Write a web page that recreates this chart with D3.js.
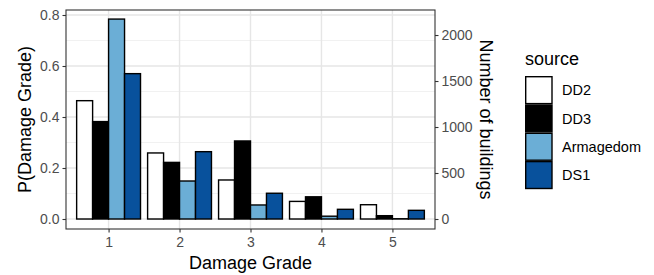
<!DOCTYPE html>
<html>
<head>
<meta charset="utf-8">
<script src="https://cdn.jsdelivr.net/npm/d3@7"></script>
<style>
  body { margin: 0; background: #fff; }
  svg { font-family: "Liberation Sans", Arial, sans-serif; display: block; }
</style>
</head>
<body>
<div id="chart-container"></div>
<script>
// Damage grades on the x axis
const grades = [1, 2, 3, 4, 5];
// Sources (legend order)
const sources = ["DD2", "DD3", "Armagedom", "DS1"];
const sourceColors = ["#ffffff", "#000000", "#6baed6", "#08519c"];

// P(Damage Grade) per source, one value per grade
const dd2 = [0.464, 0.259, 0.153, 0.069, 0.056];
const dd3 = [0.382, 0.222, 0.306, 0.087, 0.013];
const armagedom = [0.784, 0.149, 0.055, 0.011, 0.001];
const ds1 = [0.570, 0.264, 0.101, 0.038, 0.034];

// tick labels
const leftTicks = [0, 0.2, 0.4, 0.6, 0.8];
const rightTicks = [0, 500, 1000, 1500, 2000];
// number of buildings used for the secondary axis
const nBuildings = 2772;

const seriesValues = [dd2, dd3, armagedom, ds1];

// flatten into rows for plotting
let rows = [];
sources.forEach((s, i) => {
    grades.forEach((g, j) => {
        rows.push({ source: s, grade: g, p: seriesValues[i][j] });
    });
});

const W = 654, H = 275;
const panel = { left: 66, right: 435, top: 10, bottom: 229 };

const svg = d3.select("#chart-container").append("svg")
    .attr("width", W)
    .attr("height", H);

// x scale: discrete grades with 0.6 expansion like ggplot
const x0 = d3.scalePoint()
    .domain(grades)
    .range([panel.left, panel.right])
    .padding(0.6);
const step = x0.step();

const x1 = d3.scaleBand()
    .domain(sources)
    .range([-0.45 * step, 0.45 * step])
    .padding(0);

// y scale
const y = d3.scaleLinear()
    .domain([0, 0.8])
    .range([219, 15]);

// secondary y scale (counts)
const y2 = d3.scaleLinear()
    .domain([0, 0.8 * nBuildings])
    .range([219, 15]);

// minor gridlines
const minorTicks = [0.1, 0.3, 0.5, 0.7];
svg.append("g").selectAll("line")
    .data(minorTicks)
    .enter().append("line")
    .attr("x1", panel.left).attr("x2", panel.right)
    .attr("y1", d => y(d)).attr("y2", d => y(d))
    .attr("stroke", "#ebebeb")
    .attr("stroke-width", 0.7);

// major gridlines
svg.append("g").selectAll("line")
    .data(leftTicks)
    .enter().append("line")
    .attr("x1", panel.left).attr("x2", panel.right)
    .attr("y1", d => y(d)).attr("y2", d => y(d))
    .attr("stroke", "#e6e6e6")
    .attr("stroke-width", 1.4);

svg.append("g").selectAll("line")
    .data(grades)
    .enter().append("line")
    .attr("x1", d => x0(d)).attr("x2", d => x0(d))
    .attr("y1", panel.top).attr("y2", panel.bottom)
    .attr("stroke", "#e6e6e6")
    .attr("stroke-width", 1.4);

// bars
svg.append("g").selectAll(".bar")
    .data(rows)
    .enter().append("rect")
    .attr("class", "bar")
    .attr("x", d => x0(d.grade) + x1(d.source))
    .attr("y", d => y(d.p))
    .attr("width", x1.bandwidth())
    .attr("height", d => y(0) - y(d.p))
    .attr("fill", d => sourceColors[sources.indexOf(d.source)])
    .attr("stroke", "#000")
    .attr("stroke-width", 1.4);

// panel border
svg.append("rect")
    .attr("x", panel.left).attr("y", panel.top)
    .attr("width", panel.right - panel.left)
    .attr("height", panel.bottom - panel.top)
    .attr("fill", "none")
    .attr("stroke", "#333333")
    .attr("stroke-width", 1.1);

// axes
function styleAxis(g) {
    g.select(".domain").remove();
    g.selectAll(".tick line").attr("stroke", "#333333").attr("stroke-width", 1.1);
    g.selectAll(".tick text")
        .attr("fill", "#4d4d4d")
        .style("font-size", "14px")
        .style("font-family", "Liberation Sans, Arial, sans-serif");
}

svg.append("g")
    .attr("transform", "translate(" + panel.left + ",0)")
    .call(d3.axisLeft(y).tickValues(leftTicks).tickFormat(d3.format(".1f")).tickSize(3.5).tickPadding(3))
    .call(styleAxis);

svg.append("g")
    .attr("transform", "translate(" + panel.right + ",0)")
    .call(d3.axisRight(y2).tickValues(rightTicks).tickFormat(d3.format("d")).tickSize(3.5).tickPadding(3))
    .call(styleAxis);

svg.append("g")
    .attr("transform", "translate(0," + panel.bottom + ")")
    .call(d3.axisBottom(x0).tickSize(3.5).tickPadding(5))
    .call(styleAxis);

// axis titles
svg.append("text")
    .attr("x", (panel.left + panel.right) / 2)
    .attr("y", 269)
    .attr("text-anchor", "middle")
    .style("font-size", "18px")
    .text("Damage Grade");

svg.append("text")
    .attr("transform", "translate(31," + ((panel.top + panel.bottom) / 2) + ") rotate(-90)")
    .attr("text-anchor", "middle")
    .style("font-size", "18px")
    .text("P(Damage Grade)");

svg.append("text")
    .attr("transform", "translate(480," + ((panel.top + panel.bottom) / 2) + ") rotate(90)")
    .attr("text-anchor", "middle")
    .style("font-size", "18px")
    .text("Number of buildings");

// legend
const legend = svg.append("g")
    .attr("class", "legend")
    .attr("transform", "translate(525,76)");

legend.append("text")
    .attr("x", 0)
    .attr("y", -11)
    .style("font-size", "18px")
    .text("source");

const keyH = 28.3;
sources.forEach((s, i) => {
    legend.append("rect")
        .attr("x", 0.7)
        .attr("y", i * keyH + 0.7)
        .attr("width", 26.3)
        .attr("height", keyH - 1.4)
        .attr("fill", sourceColors[i])
        .attr("stroke", "#000")
        .attr("stroke-width", 1.4);
    legend.append("text")
        .attr("x", 37)
        .attr("y", i * keyH + keyH / 2)
        .attr("dy", "0.35em")
        .style("font-size", "14.5px")
        .text(s);
});
</script>
</body>
</html>
